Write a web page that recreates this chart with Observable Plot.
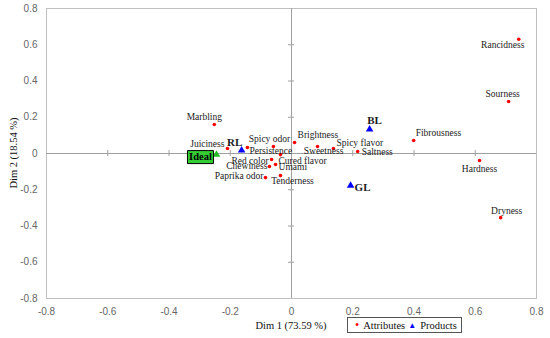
<!DOCTYPE html>
<html><head><meta charset="utf-8">
<script src="https://cdn.jsdelivr.net/npm/d3@7"></script>
<script src="https://cdn.jsdelivr.net/npm/@observablehq/plot@0.6"></script>
<style>
body{margin:0;background:#fff}
#wrap{position:relative;width:550px;height:338px;overflow:hidden;background:#fff}
#wrap svg{position:absolute;left:0;top:0}
.title{position:absolute;font-family:"Liberation Serif",serif;font-size:10.5px;color:#111;white-space:nowrap}
#xtitle{left:0;width:582px;top:320px;text-align:center}
#ytitle{left:13px;top:153px;transform:translate(-50%,-50%) rotate(-90deg)}
#legend{position:absolute;left:347px;top:317px;width:113px;height:14px;border:1px solid #555;background:#fff;font-family:"Liberation Serif",serif;font-size:10.5px;color:#111;line-height:14px;white-space:nowrap}
#legend span{display:inline-block}
</style></head><body><div id="wrap"></div>
<script>
// ---- data ----
const attrNames = ["Rancidness","Sourness","Fibrousness","Hardness","Dryness","Saltness","Spicy flavor","Sweetness","Brightness","Spicy odor","Persistence","Juiciness","Marbling","Cured flavor","Red color","Chewiness","Umami","Paprika odor","Tenderness"];
const attrX = [0.742,0.709,0.399,0.614,0.683,0.216,0.137,0.085,0.010,-0.059,-0.144,-0.209,-0.252,-0.036,-0.065,-0.072,-0.052,-0.085,-0.036];
const attrY = [0.630,0.287,0.072,-0.039,-0.354,0.011,0.028,0.039,0.061,0.039,0.033,0.028,0.160,-0.006,-0.033,-0.072,-0.061,-0.133,-0.122];
const prodNames = ["BL","GL","RL"];
const prodX = [0.255,0.193,-0.163];
const prodY = [0.133,-0.177,0.017];
const idealNames = ["Ideal"];
const idealX = [-0.245];
const idealY = [-0.006];
const xTicks = [-0.8,-0.6,-0.4,-0.2,0,0.2,0.4,0.6,0.8];
const yTicks = [-0.8,-0.6,-0.4,-0.2,0,0.2,0.4,0.6,0.8];
const xTitle = "Dim 1 (73.59 %)";
const yTitle = "Dim 2 (18.54 %)";
const legendLabels = ["Attributes","Products"];

// ---- label placement (anchor, dx, dy) ----
const place = {
  "Rancidness":["middle",-16,6], "Sourness":["middle",-6,-8], "Fibrousness":["start",2,-7],
  "Hardness":["middle",0,8], "Dryness":["middle",6,-7], "Saltness":["start",4,0],
  "Spicy flavor":["start",3,-5], "Sweetness":["middle",6,5], "Brightness":["start",3,-7],
  "Spicy odor":["middle",-4,-7], "Persistence":["start",2,3], "Juiciness":["end",-3,-4],
  "Marbling":["middle",-10,-8], "Cured flavor":["start",-2,6], "Red color":["end",-3,1],
  "Chewiness":["end",-2,-1], "Umami":["start",3,2], "Paprika odor":["end",-2,-2],
  "Tenderness":["middle",12,5],
  "BL":["middle",5,-9], "GL":["start",4,2], "RL":["middle",-7,-8]
};

const attrs = attrNames.map((n,i)=>({name:n,x:attrX[i],y:attrY[i]}));
const prods = prodNames.map((n,i)=>({name:n,x:prodX[i],y:prodY[i]}));
const ideal = idealNames.map((n,i)=>({name:n,x:idealX[i],y:idealY[i]}));
const fmt = d => String(d);
const inner = xTicks.filter(d => d !== 0 && Math.abs(d) < 0.8);
const innerY = yTicks.filter(d => d !== 0 && Math.abs(d) < 0.8);

const boxSymbol = {draw(ctx){ ctx.rect(-13,-6.5,26,13); }};

const serif = "Liberation Serif";
const labelMarks = [...attrs, ...prods].map(d => {
  const [a,dx,dy] = place[d.name];
  const isProd = prodNames.includes(d.name);
  return Plot.text([d], {x:"x", y:"y", text:"name", textAnchor:a, dx, dy,
    fontFamily: serif, fontSize: isProd ? 11 : 9.5, fontWeight: isProd ? "bold" : "normal", fill:"#1a1a1a"});
});

const chart = Plot.plot({
  width: 550, height: 338,
  marginLeft: 46, marginRight: 14, marginTop: 8, marginBottom: 40,
  style: {fontFamily: "Liberation Sans", fontSize: "10px", color: "#666666", background: "transparent"},
  x: {domain: [-0.8,0.8], ticks: xTicks, tickFormat: fmt, tickSize: 0, tickPadding: 9, label: null},
  y: {domain: [-0.8,0.8], ticks: yTicks, tickFormat: fmt, tickSize: 0, tickPadding: 9, label: null},
  marks: [
    Plot.frame({stroke: "#c0c0c0"}),
    Plot.ruleX([0], {stroke: "#a0a0a0"}),
    Plot.ruleY([0], {stroke: "#a0a0a0"}),
    Plot.ruleX(inner, {x: d => d, y1: 0, y2: 0, insetTop: -3, insetBottom: -3, stroke: "#a0a0a0"}),
    Plot.ruleY(innerY, {y: d => d, x1: 0, x2: 0, insetLeft: -3, insetRight: -3, stroke: "#a0a0a0"}),
    Plot.dot(ideal, {x:"x", y:"y", symbol:"triangle", r:2.8, fill:"#22bb22"}),
    Plot.dot(ideal, {x:"x", y:"y", symbol: boxSymbol, dx:-16, dy:2.5, fill:"#33cc33", stroke:"#000", strokeWidth:1}),
    Plot.text(ideal, {x:"x", y:"y", text:"name", dx:-16, dy:2.5, fontFamily: serif, fontSize:10.5, fontWeight:"bold", fill:"#000"}),
    Plot.dot(attrs, {x:"x", y:"y", r:1.8, fill:"#ff0000"}),
    Plot.dot(prods, {x:"x", y:"y", symbol:"triangle", r:2.8, fill:"#0000ff"}),
    ...labelMarks
  ]
});
const wrap = document.getElementById("wrap");
wrap.appendChild(chart);
const xt = document.createElement("div"); xt.className="title"; xt.id="xtitle"; xt.textContent = xTitle; wrap.appendChild(xt);
const yt = document.createElement("div"); yt.className="title"; yt.id="ytitle"; yt.textContent = yTitle; wrap.appendChild(yt);
const lg = document.createElement("div"); lg.id = "legend";
lg.innerHTML = `<span style="color:#f00;margin-left:7px;font-size:12px">•</span><span style="margin-left:4px">${legendLabels[0]}</span><span style="color:#00f;margin-left:3px;font-size:8px;vertical-align:1px">▲</span><span style="margin-left:4px">${legendLabels[1]}</span>`;
wrap.appendChild(lg);
</script></body></html>
